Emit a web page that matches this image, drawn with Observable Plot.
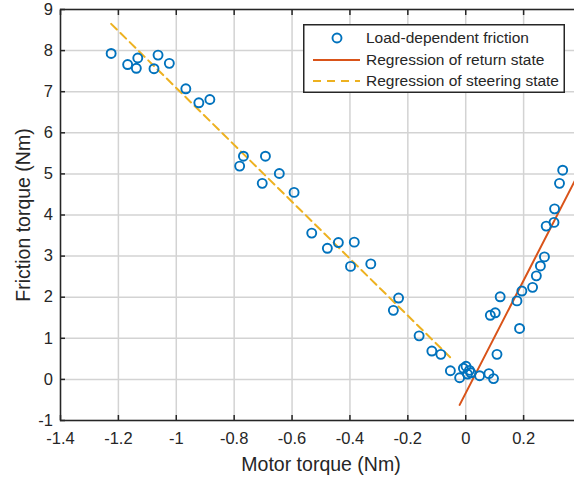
<!DOCTYPE html>
<html><head><meta charset="utf-8">
<script src="https://cdn.jsdelivr.net/npm/d3@7"></script>
<script src="https://cdn.jsdelivr.net/npm/@observablehq/plot@0.6"></script>
<style>
html,body{margin:0;padding:0;background:#fff;overflow:hidden}
#wrap{position:relative;width:574px;height:480px;overflow:hidden;font-family:"Liberation Sans",Arial,sans-serif}
#wrap > svg.chart{max-width:none !important;width:600px;height:480px;display:block}
#legend{position:absolute;left:303px;top:24px}
</style></head><body><div id="wrap"></div>
<script>
// Measured points: motor torque (Nm) vs friction torque (Nm)
const motorTorque = [
  -1.225,-1.168,-1.133,-1.138,-1.077,-1.063,-1.024,-0.967,-0.922,-0.884,
  -0.768,-0.781,-0.692,-0.703,-0.644,-0.593,-0.532,-0.478,-0.440,-0.385,
  -0.398,-0.328,-0.232,-0.250,-0.161,-0.117,-0.086,-0.053,-0.021,
  0.001,0.013,0.006,0.018,-0.008,0.048,0.080,0.096,0.108,0.085,0.102,
  0.119,0.186,0.177,0.194,0.231,0.244,0.258,0.272,0.278,0.305,0.307,0.324,0.335
];
const frictionTorque = [
  7.93,7.66,7.82,7.57,7.56,7.89,7.69,7.07,6.73,6.81,
  5.43,5.19,5.43,4.77,5.01,4.55,3.56,3.19,3.33,3.34,
  2.75,2.81,1.98,1.68,1.06,0.69,0.61,0.21,0.04,
  0.32,0.22,0.13,0.16,0.27,0.09,0.14,0.02,0.61,1.56,1.62,
  2.01,1.24,1.91,2.15,2.24,2.52,2.76,2.98,3.73,3.82,4.15,4.77,5.09
];
// Regression line endpoints
const steeringLineX = [-1.225, -0.054];
const steeringLineY = [8.65, 0.54];
const returnLineX = [-0.021, 0.4];
const returnLineY = [-0.62, 5.15];
// Axes
const xTicks = [-1.4,-1.2,-1,-0.8,-0.6,-0.4,-0.2,0,0.2];
const xTickLabels = ["-1.4","-1.2","-1","-0.8","-0.6","-0.4","-0.2","0","0.2"];
const yTicks = [-1,0,1,2,3,4,5,6,7,8,9];
const yTickLabels = ["-1","0","1","2","3","4","5","6","7","8","9"];
const xLabel = "Motor torque (Nm)";
const yLabel = "Friction torque (Nm)";
const seriesNames = ["Load-dependent friction","Regression of return state","Regression of steering state"];

const blue = "#0072BD", red = "#D95319", yellow = "#EDB120", ink = "#262626";

const points = motorTorque.map((x, i) => ({x, y: frictionTorque[i]}));
const steering = steeringLineX.map((x, i) => ({x, y: steeringLineY[i]}));
const ret = returnLineX.map((x, i) => ({x, y: returnLineY[i]}));

const chart = Plot.plot({
  width: 600, height: 480,
  marginLeft: 60, marginRight: 19, marginTop: 9, marginBottom: 60,
  className: "chart",
  style: {fontFamily: '"Liberation Sans", Arial, sans-serif', color: ink, background: "white", overflow: "visible", maxWidth: "none"},
  x: {domain: [-1.4, 0.4], label: null},
  y: {domain: [-1, 9], label: null},
  marks: [
    Plot.gridX(xTicks, {stroke: "#d3d3d3", strokeOpacity: 1, strokeWidth: 1.5}),
    Plot.gridY(yTicks, {stroke: "#d3d3d3", strokeOpacity: 1, strokeWidth: 1.5}),
    Plot.line(steering, {x: "x", y: "y", stroke: yellow, strokeWidth: 2, strokeDasharray: "8,5", clip: true}),
    Plot.line(ret, {x: "x", y: "y", stroke: red, strokeWidth: 2, clip: true}),
    Plot.dot(points, {x: "x", y: "y", r: 4.5, stroke: blue, strokeWidth: 1.9, fill: "none"}),
    Plot.frame({stroke: ink, strokeWidth: 1.5}),
    Plot.axisX({ticks: xTicks, tickSize: -5, tickPadding: 17, tickFormat: (d) => xTickLabels[xTicks.indexOf(d)], fontSize: 16.5, stroke: ink, strokeWidth: 1.5, label: null}),
    Plot.axisX({anchor: "top", ticks: xTicks, tickSize: -5, tickFormat: () => "", stroke: ink, strokeWidth: 1.5, label: null}),
    Plot.axisY({ticks: yTicks, tickSize: -5, tickPadding: 12.5, tickFormat: (d) => yTickLabels[yTicks.indexOf(d)], fontSize: 16.5, stroke: ink, strokeWidth: 1.5, label: null}),
    Plot.text([xLabel], {frameAnchor: "bottom", textAnchor: "middle", lineAnchor: "middle", dy: 44, fontSize: 19.5, fill: ink}),
    Plot.text([yLabel], {frameAnchor: "left", textAnchor: "middle", lineAnchor: "middle", rotate: -90, dx: -37, fontSize: 19.5, fill: ink})
  ]
});
chart.style.maxWidth = "none";
chart.style.width = "600px";
chart.style.height = "480px";
const wrap = document.getElementById("wrap");
wrap.appendChild(chart);

// Legend
const lw = 262, lh = 69, rows = [14, 36, 57];
const legend = d3.create("svg").attr("id", "legend").attr("width", lw).attr("height", lh)
  .style("font-family", '"Liberation Sans", Arial, sans-serif');
legend.append("rect").attr("x", 0.75).attr("y", 0.75).attr("width", lw - 1.5).attr("height", lh - 1.5)
  .attr("fill", "white").attr("stroke", ink).attr("stroke-width", 1.5);
legend.append("circle").attr("cx", 34).attr("cy", rows[0]).attr("r", 4.5).attr("fill", "none").attr("stroke", blue).attr("stroke-width", 1.9);
legend.append("line").attr("x1", 10).attr("x2", 57).attr("y1", rows[1]).attr("y2", rows[1]).attr("stroke", red).attr("stroke-width", 2);
legend.append("line").attr("x1", 10).attr("x2", 57).attr("y1", rows[2]).attr("y2", rows[2]).attr("stroke", yellow).attr("stroke-width", 2).attr("stroke-dasharray", "8,6");
seriesNames.forEach((s, i) => {
  legend.append("text").attr("x", 63).attr("y", rows[i]).attr("dy", "0.35em").attr("font-size", 15.5).attr("fill", ink).text(s);
});
wrap.appendChild(legend.node());
</script></body></html>
